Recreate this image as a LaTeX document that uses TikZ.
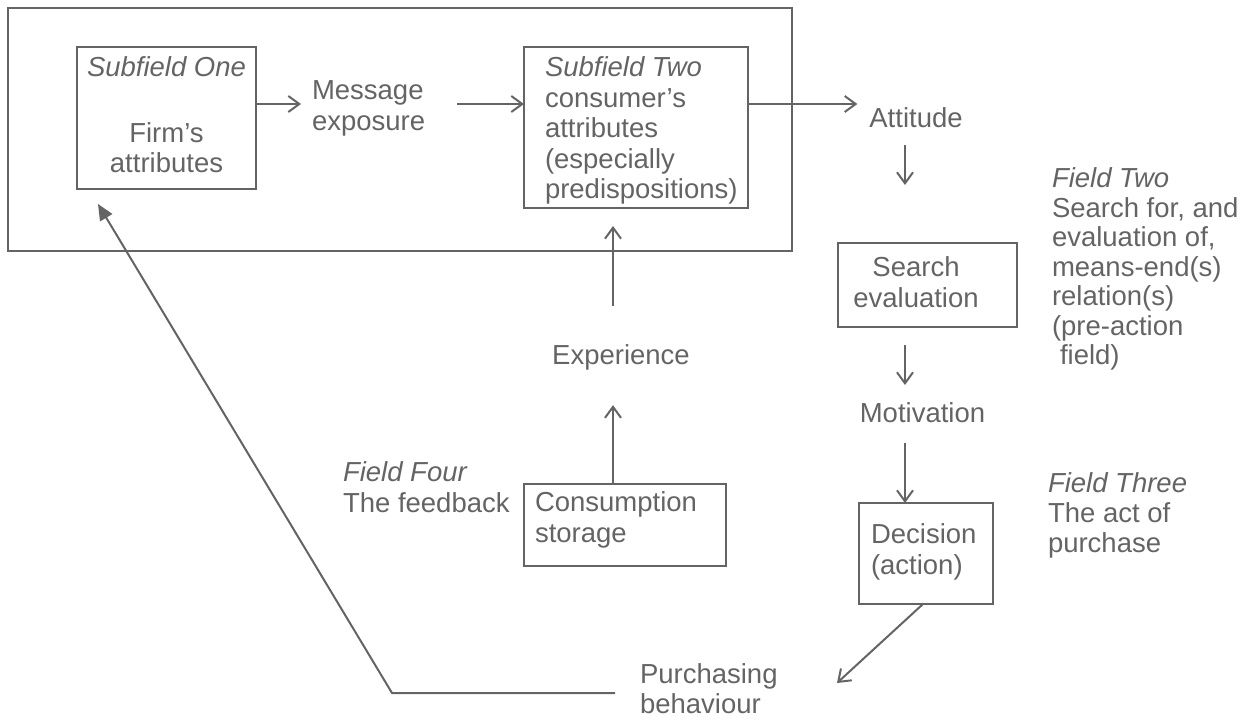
\documentclass[tikz,border=0pt]{standalone}
\usepackage{fontspec}
\setmainfont{Liberation Sans}
\usetikzlibrary{arrows.meta}
\definecolor{ink}{RGB}{100,100,100}
\begin{document}
\begin{tikzpicture}[x=1pt,y=-1pt,
  every node/.style={inner sep=0pt, outer sep=0pt, text=ink},
  frame/.style={draw=ink, line width=2pt, anchor=north west},
  txt/.style={font=\fontsize{27.5}{30.5}\selectfont, align=left, anchor=north west},
  ctxt/.style={font=\fontsize{27.5}{30.5}\selectfont, align=center, anchor=north},
  conn/.style={draw=ink, line width=2pt, -{Straight Barb[length=11pt,width=16pt,line width=2pt]}},
  fb/.style={draw=ink, line width=2pt, -{Triangle[length=16pt,width=14pt]}}
]
\useasboundingbox (0,0) rectangle (1251,721);

% boxes
\node[frame, minimum width=784, minimum height=243] (outer) at (8,8) {};
\node[frame, minimum width=179, minimum height=142] (sf1) at (77,47) {};
\node[frame, minimum width=224, minimum height=161] (sf2) at (524,47) {};
\node[frame, minimum width=179, minimum height=84] (srch) at (838,243) {};
\node[frame, minimum width=134, minimum height=101] (dec) at (859,503) {};
\node[frame, minimum width=202, minimum height=82] (cons) at (524,484) {};

% texts
\node[ctxt] (sf1t) at (166.5,57) {\textit{Subfield One}\\[35pt]Firm's\\attributes};
\node[txt] (msg) at (312,81) {Message\\exposure};
\node[txt] (sf2t) at (545,57) {\textit{Subfield Two}\\consumer's\\attributes\\(especially\\predispositions)};
\node[ctxt] (att) at (916,108) {Attitude};
\node[ctxt] (srcht) at (916,257) {Search\\evaluation};
\node[ctxt] (mot) at (922.5,403) {Motivation};
\node[txt] (dect) at (871,524) {Decision\\(action)};
\node[txt, font=\fontsize{27.5}{30}\selectfont] (purch) at (640,664) {Purchasing\\behaviour};
\node[txt] (const) at (535,492) {Consumption\\storage};
\node[ctxt] (exp) at (621,345) {Experience};
\node[txt] (ffour) at (343,462) {\textit{Field Four}\\The feedback};
\node[txt, font=\fontsize{27.5}{29.5}\selectfont] (ftwo) at (1052,168) {\textit{Field Two}\\Search for, and\\evaluation of,\\means-end(s)\\relation(s)\\(pre-action\\\hspace*{8pt}field)};
\node[txt, font=\fontsize{27.5}{30}\selectfont] (fthree) at (1048,473) {\textit{Field Three}\\The act of\\purchase};

% free ends
\coordinate (pbin) at (837,683);
\coordinate (fbc) at (392,693);
\coordinate (fbtip) at (98,204);

% connectors
\draw[conn, shorten >=11pt] ([yshift=14pt]sf1.east) -- ([yshift=14pt]sf1.east -| msg.west);
\draw[conn, shorten <=32pt] ([yshift=23.5pt]sf2.west -| msg.east) -- ([yshift=23.5pt]sf2.west);
\draw[conn, shorten >=12pt] ([yshift=23.5pt]sf2.east) -- ([yshift=23.5pt]sf2.east -| att.west);
\draw[conn, shorten <=17pt, shorten >=58pt] ([xshift=-22.5pt]srch.north |- att.south) -- ([xshift=-22.5pt]srch.north);
\draw[conn, shorten <=18pt, shorten >=18pt] ([xshift=-22.5pt]srch.south) -- ([xshift=-22.5pt]srch.south |- mot.north);
\draw[conn, shorten <=20pt] ([xshift=-21pt]dec.north |- mot.south) -- ([xshift=-21pt]dec.north);
\draw[conn] ([xshift=-3pt]dec.south) -- (pbin);
\draw[conn, shorten >=34.5pt] ([xshift=-12pt]cons.north) -- ([xshift=-12pt]cons.north |- exp.south);
\draw[conn, shorten <=39pt, shorten >=18pt] ([xshift=-8pt]exp.north) -- ([xshift=-8pt]exp.north |- sf2.south);
\draw[fb, shorten <=25pt] (purch.west |- fbc) -- (fbc) -- (fbtip);
\end{tikzpicture}
\end{document}
